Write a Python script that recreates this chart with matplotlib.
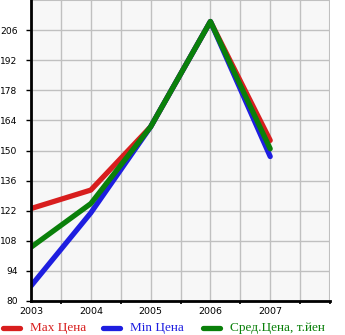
import numpy as np
import matplotlib.pyplot as plt
from matplotlib.lines import Line2D

# price history by year
years = [2003, 2004, 2005, 2006, 2007]
max_price = [123, 131.6, 161, 210, 154.7]
min_price = [87, 121, 161, 210, 147.2]
avg_price = [105, 125.3, 161, 210, 150.8]

series_names = ["Max Цена", "Min Цена", "Сред.Цена, т.йен"]
series_colors = ["#d81e1e", "#1e1ee0", "#0a800a"]

y_ticks = list(range(80, 207, 14))

W, H = 345, 335
fig = plt.figure(figsize=(W / 100, H / 100), dpi=100)
ax = fig.add_axes([31 / W, 34 / H, 299 / W, 301 / H])
ax.set_facecolor("#f7f7f7")

for vals, c in zip([max_price, min_price, avg_price], series_colors):
    ax.plot(years, vals, color=c, lw=3.8, solid_capstyle="round",
            solid_joinstyle="round", zorder=3)

ax.set_xlim(2003, 2008)
ax.set_ylim(80, 220)

ax.set_xticks(years)
ax.set_xticks(np.arange(2003.5, 2008.01, 0.5), minor=True)
ax.set_yticks(y_ticks)
ax.set_xticklabels([str(y) for y in years])

ax.grid(True, which="both", axis="x", color="#c0c0c0", lw=1, zorder=0)
ax.grid(True, which="major", axis="y", color="#c0c0c0", lw=1, zorder=0)
ax.axhline(220, color="#c0c0c0", lw=1.5, zorder=0)
ax.axvline(2008, color="#c0c0c0", lw=1.5, zorder=0)

ax.tick_params(axis="x", which="major", length=0, pad=4, labelsize=6.8)
ax.tick_params(axis="x", which="minor", length=2.5, width=1.2, color="black")
ax.tick_params(axis="y", length=3.6, width=1, pad=6, labelsize=6.6)

for side in ["top", "right"]:
    ax.spines[side].set_visible(False)
for side in ["left", "bottom"]:
    ax.spines[side].set_linewidth(2)
    ax.spines[side].set_zorder(5)

# legend row along the bottom edge
leg_y = 7 / H
for i, (name, c) in enumerate(zip(series_names, series_colors)):
    x0 = (3 + 100 * i) / W
    fig.add_artist(Line2D([x0, x0 + 17 / W], [leg_y, leg_y], color=c, lw=3.8,
                          solid_capstyle="round", transform=fig.transFigure))
    fig.text((30 + 100 * i) / W, leg_y, name, color=c, va="center", ha="left",
             family="Liberation Serif", fontsize=9.5)

fig.savefig("out.png", dpi=100)
